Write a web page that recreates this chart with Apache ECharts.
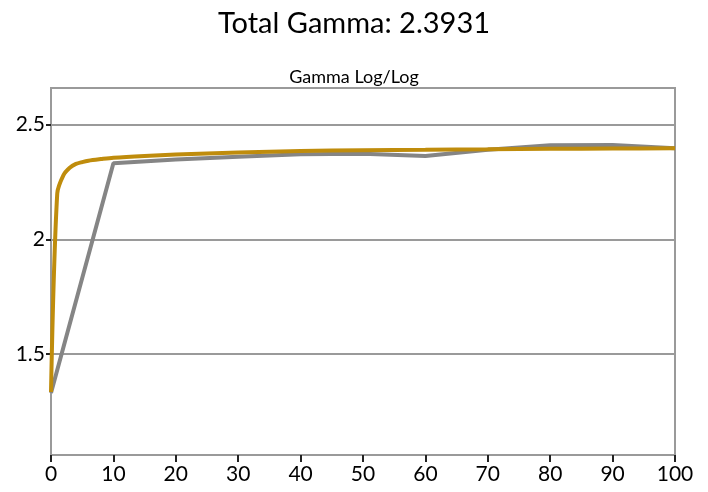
<!DOCTYPE html>
<html>
<head>
<meta charset="utf-8">
<script src="https://cdn.jsdelivr.net/npm/echarts@6/dist/echarts.min.js"></script>
<style>
  html, body { margin: 0; padding: 0; background: #fff; }
  #main { width: 708px; height: 492px; }
</style>
</head>
<body>
<div id="main"></div>
<script>
// 测量点（灰色）
var measX = [0, 10, 20, 30, 40, 50, 60, 70, 80, 90, 100];
var measY = [1.33, 2.332, 2.348, 2.360, 2.371, 2.373, 2.364, 2.391, 2.410, 2.412, 2.397];

// 拟合曲线（金色）
var fitX = [0, 1, 2, 3, 4, 5, 6, 8, 10, 15, 20, 30, 40, 50, 60, 70, 80, 90, 100];
var fitY = [1.335, 2.20, 2.280, 2.312, 2.329, 2.337, 2.343, 2.350, 2.356, 2.364, 2.370, 2.379, 2.385, 2.389, 2.391, 2.393, 2.395, 2.396, 2.397];

var yTicks = [1.5, 2, 2.5];

function pairs(xs, ys) {
	var out = [];
	for (var i = 0; i < xs.length; i++) {
		out.push([xs[i], ys[i]]);
	}
	return out;
}

var font = "Lato, 'Open Sans', sans-serif";

var myChart = echarts.init(document.getElementById('main'), null, {renderer: 'canvas'});

var option = {
	backgroundColor: '#fff',
	animation: false,
	title: [{
		text: 'Total Gamma: 2.3931',
		left: 'center',
		top: 4,
		textStyle: { fontSize: 29, fontWeight: 'normal', color: '#000', fontFamily: font }
	}, {
		text: 'Gamma Log/Log',
		left: 'center',
		top: 63,
		textStyle: { fontSize: 18, fontWeight: 'normal', color: '#000', fontFamily: font }
	}],
	grid: {
		left: 51, right: 33, top: 88, bottom: 37,
		show: true,
		borderColor: '#9a9a9a',
		borderWidth: 2
	},
	xAxis: {
		type: 'value',
		min: 0, max: 100, interval: 10,
		axisLine: { show: false },
		axisTick: { show: true, length: 7, lineStyle: { color: '#222', width: 2 } },
		axisLabel: { fontSize: 21, color: '#000', fontFamily: font, margin: 9 },
		splitLine: { show: false }
	},
	yAxis: {
		type: 'value',
		min: 1.06, max: 2.66,
		axisLine: { show: false },
		axisTick: { show: true, length: 5, customValues: yTicks, lineStyle: { color: '#222', width: 2 } },
		axisLabel: { fontSize: 21, color: '#000', fontFamily: font, margin: 6, customValues: yTicks,
			formatter: function (v) { return String(v); } },
		splitLine: { show: true, lineStyle: { color: '#9a9a9a', width: 2 } }
	},
	series: [{
		name: 'measured',
		type: 'line',
		data: pairs(measX, measY),
		showSymbol: false,
		lineStyle: { color: '#858585', width: 4 },
		z: 2
	}, {
		name: 'fit',
		type: 'line',
		data: pairs(fitX, fitY),
		showSymbol: false,
		smooth: 0.3,
		lineStyle: { color: '#BF8C0C', width: 4 },
		z: 3
	}]
};
myChart.setOption(option);
</script>
</body>
</html>
